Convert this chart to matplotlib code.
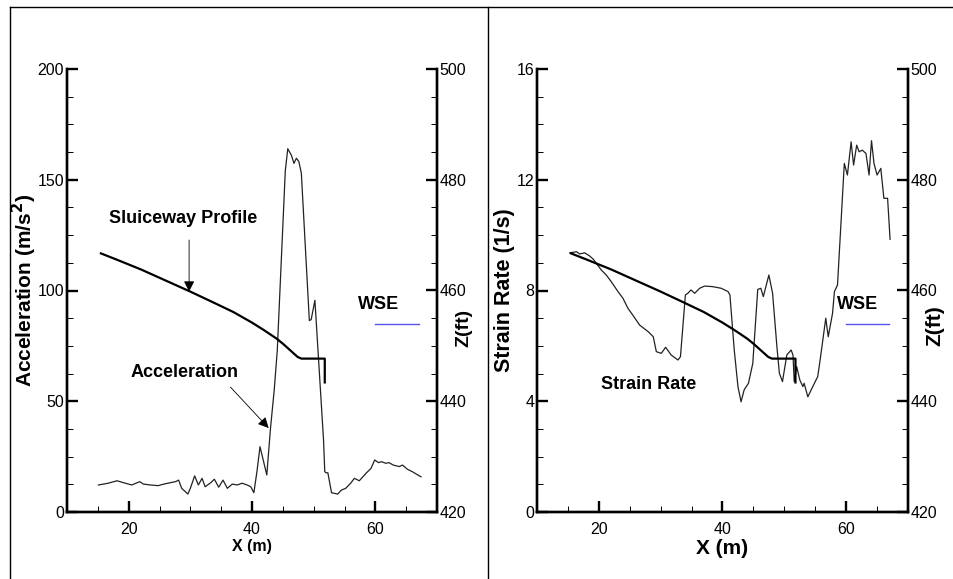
import matplotlib
matplotlib.use('Agg')
import matplotlib.pyplot as plt
from matplotlib.lines import Line2D
from matplotlib.ticker import MultipleLocator

plt.rcParams['font.family'] = ['Liberation Sans', 'DejaVu Sans']

# sluiceway profile, elevation in ft (same in both panels)
prof_x = [15.5, 18, 22, 26, 30, 34, 37, 40, 42, 44, 45, 46, 46.8, 47.4, 48,
          50, 51.8, 51.8]
prof_z = [466.7, 465.6, 463.8, 461.8, 459.8, 457.7, 456.1, 454.2, 452.8, 451.3,
          450.4, 449.4, 448.6, 448.0, 447.7, 447.7, 447.7, 443.4]

# acceleration (m/s2)
acc_x = [15.1, 16.7, 18.1, 19.2, 20.5, 21.8, 22.4, 23.5, 24.8, 25.7, 26.7, 27.6,
         28.1, 28.6, 29.6, 30.0, 30.7, 31.3, 31.9, 32.4, 33.3, 33.9, 34.6, 35.3,
         36.0, 36.8, 37.6, 38.4, 39.2, 39.8, 40.3, 40.8, 41.3, 42.4, 43.0, 43.6,
         44.1, 44.5, 44.9, 45.4, 45.8, 46.4, 46.8, 47.2, 47.6, 48.0, 49.3, 49.6,
         50.2, 51.6, 51.8, 52.0, 52.3, 52.9, 53.9, 54.5, 55.2, 56.0, 56.6, 57.4,
         58.5, 59.3, 59.9, 60.5, 61.0, 61.7, 62.2, 62.9, 63.9, 64.4, 65.2, 66.0,
         66.6, 67.4]
acc_y = [12.2, 13.0, 14.1, 13.2, 12.2, 13.7, 12.6, 12.2, 11.9, 12.6, 13.2, 13.7,
         14.4, 10.7, 8.1, 10.7, 16.3, 12.2, 15.2, 11.4, 13.2, 14.8, 11.2, 14.4,
         10.7, 12.6, 12.2, 13.0, 12.2, 11.4, 8.7, 18.2, 29.5, 16.7, 37.8, 55.0,
         73.0, 98.0, 123.0, 154.0, 164.0, 161.0, 157.4, 159.7, 158.2, 153.0, 86.4,
         86.9, 95.6, 32.5, 18.2, 17.7, 17.7, 8.7, 8.1, 9.9, 10.7, 13.0, 15.2, 14.1,
         17.5, 19.7, 23.5, 22.3, 22.7, 22.0, 22.3, 21.2, 20.5, 21.2, 19.3, 18.2,
         17.2, 15.9]

# strain rate (1/s)
sr_x = [15.3, 16.4, 16.9, 17.7, 18.5, 19.1, 20.4, 21.2, 22.0, 23.1, 23.9, 24.7,
        25.5, 26.6, 28.0, 28.8, 29.3, 30.1, 30.8, 31.7, 32.8, 33.2, 34.0, 34.4,
        34.9, 35.5, 36.3, 37.1, 38.4, 39.8, 40.9, 41.2, 41.9, 42.5, 43.0, 43.5,
        44.2, 44.9, 45.7, 46.2, 46.6, 47.5, 48.1, 48.8, 49.2, 49.7, 50.4, 51.1,
        51.4, 51.6, 52.0, 52.5, 53.0, 53.2, 53.8, 54.6, 55.4, 55.9, 56.7, 57.1,
        57.8, 58.1, 58.6, 59.7, 60.2, 60.8, 61.2, 61.7, 62.1, 62.6, 63.2, 63.7,
        64.1, 64.5, 65.0, 65.6, 66.1, 66.7, 67.1]
sr_y = [9.36, 9.40, 9.32, 9.36, 9.25, 9.13, 8.74, 8.56, 8.32, 7.96, 7.72, 7.36,
        7.11, 6.75, 6.51, 6.33, 5.79, 5.73, 5.95, 5.67, 5.49, 5.61, 7.84, 7.90,
        8.02, 7.90, 8.08, 8.16, 8.14, 8.08, 7.96, 7.84, 5.85, 4.53, 3.98, 4.41,
        4.65, 5.37, 8.04, 8.08, 7.78, 8.56, 7.90, 5.97, 5.01, 4.71, 5.67, 5.85,
        5.67, 4.71, 5.25, 4.77, 4.53, 4.65, 4.16, 4.53, 4.89, 5.67, 7.00, 6.33,
        7.18, 7.96, 8.20, 12.59, 12.17, 13.37, 12.53, 13.25, 13.01, 13.07, 12.95,
        12.17, 13.41, 12.59, 12.17, 12.41, 11.33, 11.33, 9.85]

wse_x = [60.0, 67.0]
wse_z = [454.0, 454.0]

fig = plt.figure(figsize=(9.54, 5.79), dpi=100)

# frame lines around the two panels
for ln in [Line2D([10 / 954, 1], [1 - 7 / 579] * 2),
           Line2D([10 / 954] * 2, [0, 1 - 7 / 579]),
           Line2D([488 / 954] * 2, [0, 1 - 7 / 579])]:
    ln.set_color('black')
    ln.set_linewidth(1.0)
    fig.add_artist(ln)


def style_axes(ax, tw, ymax, ymajor, yminor):
    ax.set_xlim(10, 70)
    ax.set_ylim(0, ymax)
    tw.set_ylim(420, 500)
    ax.xaxis.set_major_locator(MultipleLocator(20))
    ax.xaxis.set_minor_locator(MultipleLocator(5))
    ax.yaxis.set_major_locator(MultipleLocator(ymajor))
    ax.yaxis.set_minor_locator(MultipleLocator(yminor))
    tw.yaxis.set_major_locator(MultipleLocator(20))
    tw.yaxis.set_minor_locator(MultipleLocator(5))
    for a in (ax, tw):
        a.spines['top'].set_visible(False)
        for s in ('left', 'right', 'bottom'):
            a.spines[s].set_linewidth(1.7)
        a.tick_params(which='major', direction='in', length=8, width=1.7,
                      labelsize=11.5)
        a.tick_params(which='minor', direction='in', length=4.5, width=0.7)
    ax.tick_params(axis='x', which='both', top=False, pad=7)
    ax.tick_params(axis='y', which='both', right=False, pad=2)
    tw.tick_params(axis='y', which='both', left=False, right=True, pad=2)


# left panel: acceleration
ax1 = fig.add_axes([67 / 954, 1 - 512 / 579, 370 / 954, 443 / 579])
tw1 = ax1.twinx()
style_axes(ax1, tw1, 200, 50, 12.5)
ax1.plot(acc_x, acc_y, color='#222222', lw=0.9)
tw1.plot(prof_x, prof_z, color='black', lw=1.6)
tw1.plot(wse_x, wse_z, color='#5555ee', lw=1.0)
tw1.text(60.6, 457.4, 'WSE', ha='center', va='center', fontsize=13,
         fontweight='bold')
ax1.set_ylabel('Acceleration (m/s$^\\mathbf{2}$)', fontsize=15,
               fontweight='bold')
ax1.yaxis.set_label_coords(-0.076, 0.5)
tw1.set_ylabel('Z(ft)', fontsize=14, fontweight='bold')
tw1.yaxis.set_label_coords(1.051, 0.415)
ax1.set_xlabel('X (m)', fontsize=11.5, fontweight='bold')
ax1.xaxis.set_label_coords(0.5, -0.062)
ax1.text(28.9, 132.7, 'Sluiceway Profile', ha='center', va='center',
         fontsize=13, fontweight='bold')
ax1.annotate('', xy=(29.8, 99.5), xytext=(29.8, 122.8),
             arrowprops=dict(arrowstyle='-|>', color='black', lw=0.6,
                             mutation_scale=16, shrinkA=0, shrinkB=0))
ax1.text(29.0, 62.8, 'Acceleration', ha='center', va='center',
         fontsize=13, fontweight='bold')
ax1.annotate('', xy=(42.7, 37.9), xytext=(36.5, 56.4),
             arrowprops=dict(arrowstyle='-|>', color='black', lw=0.6,
                             mutation_scale=16, shrinkA=0, shrinkB=0))

# right panel: strain rate
ax2 = fig.add_axes([537 / 954, 1 - 512 / 579, 371 / 954, 443 / 579])
tw2 = ax2.twinx()
style_axes(ax2, tw2, 16, 4, 1)
ax2.plot(sr_x, sr_y, color='#222222', lw=0.9)
tw2.plot(prof_x, prof_z, color='black', lw=1.6)
tw2.plot(wse_x, wse_z, color='#5555ee', lw=1.0)
tw2.text(61.8, 457.4, 'WSE', ha='center', va='center', fontsize=13,
         fontweight='bold')
ax2.set_ylabel('Strain Rate (1/s)', fontsize=15.5, fontweight='bold')
ax2.yaxis.set_label_coords(-0.059, 0.5)
tw2.set_ylabel('Z(ft)', fontsize=15, fontweight='bold')
tw2.yaxis.set_label_coords(1.048, 0.42)
ax2.set_xlabel('X (m)', fontsize=15, fontweight='bold')
ax2.xaxis.set_label_coords(0.5, -0.06)
ax2.text(28.1, 4.59, 'Strain Rate', ha='center', va='center',
         fontsize=13, fontweight='bold')

fig.savefig('out.png', dpi=100)
